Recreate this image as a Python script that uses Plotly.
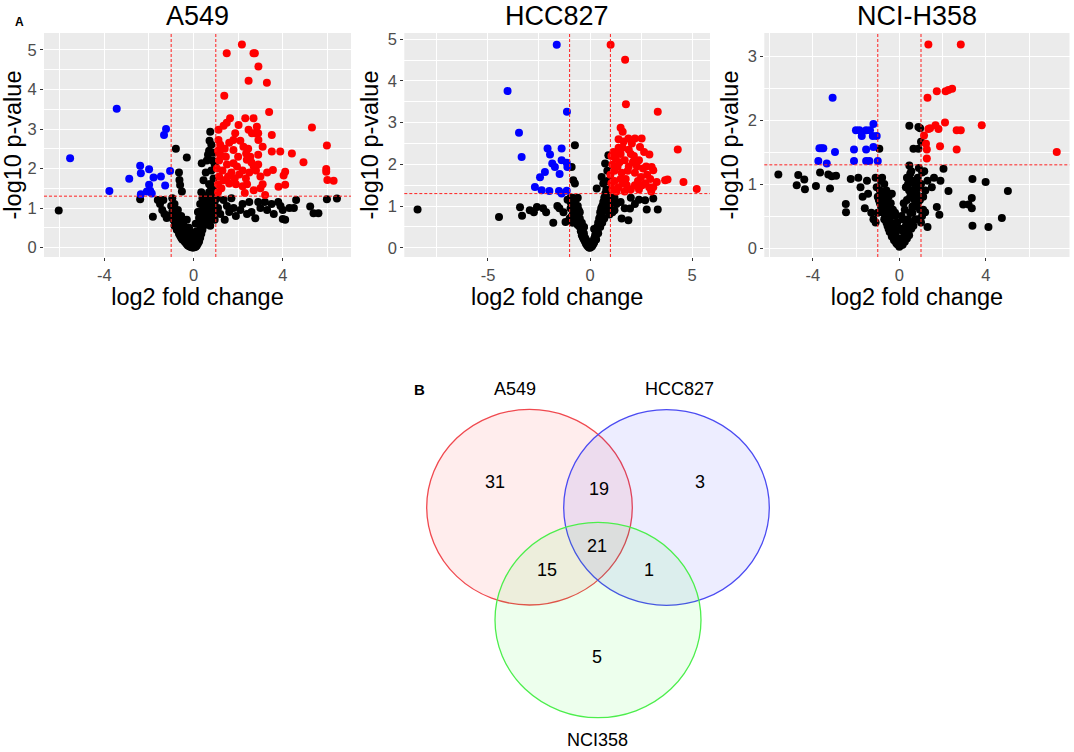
import plotly.graph_objects as go

# ---------------- data ----------------
panel_titles = ["A549", "HCC827", "NCI-H358"]

a549_xticks = [-4, 0, 4]
hcc_xticks = [-5, 0, 5]
nci_xticks = [-4, 0, 4]
a549_yticks = [0, 1, 2, 3, 4, 5]
hcc_yticks = [0, 1, 2, 3, 4, 5]
nci_yticks = [0, 1, 2, 3]

a549_red_x = [2.17,1.49,2.69,2.75,2.91,2.47,3.29,1.38,3.39,5.31,5.98,4.93,4.41,3.89,3.51,3.51,5.95,5.95,6.0,6.28,4.11,4.04,4.11,3.81,3.56,3.21,1.64,1.49,1.35,2.32,2.69,2.84,2.02,1.87,1.79,2.47,2.62,2.75,2.9,1.12,1.12,2.91,2.24,2.36,2.39,1.79,2.0,1.79,1.1,1.2,1.15,1.45,1.5,1.3,1.55,1.7,1.85,2.05,2.2,2.35,2.5,2.6,2.7,2.8,2.9,3.0,3.1,3.0,2.4,2.2,1.9,1.6,1.35,1.15,1.1,1.1,1.25,2.3,2.7,3.3,1.4,1.6,2.1,2.45,2.9,3.1,1.95,2.55,1.05,1.2]
a549_red_y = [5.14,4.92,4.92,4.92,4.58,4.22,4.17,3.84,3.43,3.04,2.58,2.16,2.38,2.43,2.43,2.85,1.99,1.92,1.71,1.69,1.92,1.82,1.59,1.54,1.96,1.33,3.27,3.16,3.08,3.27,3.27,3.06,3.10,2.89,2.72,2.98,2.89,2.89,2.89,2.98,2.72,2.72,2.55,2.38,2.22,2.47,2.3,2.13,2.45,2.35,2.2,2.3,2.1,1.95,1.8,1.9,1.75,1.85,1.95,1.75,1.9,2.15,2.05,1.95,2.1,1.8,1.6,1.5,1.6,1.55,1.6,1.62,1.7,1.8,1.6,1.4,1.5,1.38,1.45,1.9,2.5,2.65,2.7,2.5,2.35,2.55,2.05,2.3,2.0,2.6]
a549_blue_x = [-3.44,-5.53,-1.23,-1.32,-3.77,-2.88,-2.39,-2.36,-1.99,-1.79,-1.46,-1.27,-1.05,-1.99,-1.94,-2.09,-1.87,-2.36]
a549_blue_y = [3.51,2.26,3.0,2.85,1.43,1.74,2.07,1.88,1.98,1.77,1.8,1.57,1.94,1.59,1.44,1.42,1.37,1.35]
a549_black_x = [-6.04,-2.39,-1.82,-0.79,-0.3,-0.63,-0.6,-0.52,-0.65,-1.6,-1.5,-1.4,-1.3,-1.2,-1.1,-1.35,-1.0,-0.95,-0.9,-0.85,-0.8,-0.75,-0.7,-0.65,-0.6,-0.55,-0.5,-0.45,-0.4,-0.35,-0.3,-0.25,-0.2,-0.15,-0.1,-0.05,0.0,0.05,0.1,0.15,0.2,0.25,0.3,0.35,0.4,0.45,0.5,0.55,0.6,0.65,0.7,0.75,0.8,0.85,0.9,0.95,0.35,0.37,0.45,0.55,0.6,0.65,0.7,0.75,0.72,0.8,0.85,0.8,0.75,0.88,0.5,0.3,0.2,-0.2,-0.3,-0.1,0.1,1.35,1.5,1.6,1.8,1.9,2.1,2.2,2.4,2.6,2.77,2.5,2.9,3.0,3.2,3.3,3.5,3.8,3.9,4.0,4.11,4.0,4.3,4.5,4.6,5.23,5.38,5.6,5.98,6.43,1.1,1.2,1.05,1.4,1.7,3.6,
                -0.95,-0.85,-0.7,-0.55,-0.45,-0.35,-0.25,-0.15,-0.05,0.05,0.15,0.25,0.35,0.45,0.55,0.65,0.75,0.85,0.95,-0.5,-0.4,-0.3,-0.2,-0.1,0.0,0.1,0.2,0.3,0.4,0.5,0.6,0.7,0.8,0.9,-0.6,-0.7,-0.8,-0.9,0.45,0.55,0.65,0.75,0.85,0.95,0.4,0.3,0.25,-0.15,-0.05,0.05,0.15,-0.35,-0.25,0.1,0.2,0.3,0.4,0.6,0.7,0.8,0.9,0.95,0.9,0.85,0.7]
a549_black_y = [0.94,1.22,0.78,2.5,2.28,1.71,1.58,1.42,1.9,1.2,1.1,0.95,0.85,0.75,0.8,1.2,1.05,0.9,0.7,0.55,0.6,0.45,0.5,0.35,0.3,0.25,0.2,0.3,0.15,0.12,0.08,0.05,0.04,0.02,0.01,0.0,0.0,0.01,0.02,0.05,0.1,0.15,0.25,0.35,0.45,0.55,0.7,0.8,0.95,1.05,1.15,1.25,1.1,1.2,0.9,0.7,1.4,2.13,1.7,1.9,2.2,2.35,2.45,2.93,2.7,2.6,2.2,1.95,1.6,1.45,1.25,0.9,0.6,0.5,0.7,0.3,0.4,1.2,1.05,0.9,1.0,0.8,0.95,1.1,0.85,0.9,0.74,1.15,1.15,1.0,1.15,0.95,1.1,1.15,1.05,0.95,0.7,0.72,1.0,1.0,1.2,1.04,0.87,0.87,1.22,1.24,1.0,0.85,1.25,0.7,1.25,0.85,
                1.25,1.1,0.95,0.8,0.65,0.5,0.35,0.2,0.1,0.12,0.25,0.4,0.55,0.75,0.95,1.2,1.05,0.95,1.15,0.45,0.35,0.3,0.25,0.15,0.08,0.2,0.3,0.45,0.6,0.85,1.1,0.8,0.75,1.05,0.55,0.7,0.85,1.0,1.0,1.15,0.65,0.55,0.8,1.0,0.85,0.65,0.75,0.4,0.25,0.35,0.15,0.2,0.1,0.6,0.9,1.1,1.25,1.3,1.4,1.5,1.75,2.1,2.4,1.3,1.6]

hcc_red_x = [1.01,1.72,1.76,3.32,1.5,1.6,4.3,5.23,4.58,3.68,3.8,3.27,2.91,3.02,3.1,1.88,2.2,2.53,2.45,1.4,1.4,1.15,1.25,1.1,1.2,1.35,1.5,1.6,1.7,1.55,1.75,1.9,2.0,2.1,2.2,2.3,2.4,2.5,2.6,2.7,2.8,2.9,3.0,2.75,2.65,2.2,2.0,1.8,1.6,1.4,1.2,1.1,1.3,2.4,2.55,1.05,1.9,2.05,1.65,1.3,1.45,1.85,2.35,2.95,3.1,1.7,2.15,1.0,1.05,1.5]
hcc_red_y = [4.87,4.51,3.44,3.26,2.88,2.78,2.36,1.41,1.58,1.62,1.64,1.58,2.24,1.94,1.86,2.62,2.62,2.62,2.42,2.6,2.4,2.3,2.15,2.0,1.85,1.95,2.25,2.4,2.1,1.8,1.65,1.95,2.25,2.05,1.8,1.95,2.1,1.7,1.9,1.55,1.75,1.45,1.35,1.95,2.3,1.5,1.4,1.5,1.55,1.45,1.6,1.4,1.35,1.4,1.5,2.2,2.35,2.5,2.55,2.25,2.05,1.85,1.6,1.65,1.45,1.35,2.2,1.75,1.55,1.65]
hcc_blue_x = [-1.63,-4.04,-1.13,-3.48,-3.35,-2.08,-1.96,-1.39,-1.85,-1.72,-1.39,-1.14,-1.11,-2.21,-2.45,-2.7,-2.37,-1.99,-1.49,-1.52,-1.39,-1.14]
hcc_blue_y = [4.87,3.76,3.26,2.76,2.18,2.38,2.24,2.38,2.02,1.94,2.1,2.04,1.94,1.82,1.69,1.46,1.38,1.36,1.77,1.36,1.3,1.37]
hcc_black_x = [-8.45,-4.46,-3.43,-3.33,-2.95,-2.75,-2.6,-2.3,-2.15,-1.8,-1.6,-1.5,-1.3,-1.2,-0.74,-0.9,-0.82,-0.74,-0.95,-0.9,-0.85,-0.8,-0.75,-0.7,-0.65,-0.6,-0.55,-0.5,-0.45,-0.4,-0.35,-0.3,-0.25,-0.2,-0.15,-0.1,-0.05,0.0,0.05,0.1,0.15,0.2,0.25,0.3,0.35,0.4,0.45,0.5,0.55,0.6,0.65,0.7,0.75,0.8,0.85,0.9,0.95,0.9,0.74,0.57,0.65,0.33,0.85,0.95,0.8,1.2,1.3,1.5,1.55,1.7,1.88,1.96,2.0,2.2,2.4,2.7,2.78,3.1,3.32,1.1,-1.0,-0.3,0.2,-0.6,-1.1,
               -0.95,-0.9,-0.85,-0.8,-0.75,-0.7,-0.65,-0.6,-0.55,-0.5,-0.45,-0.4,-0.35,-0.3,-0.25,-0.2,-0.15,-0.1,0.0,0.1,0.15,0.2,0.25,0.3,0.35,0.4,0.45,0.5,0.55,0.6,0.65,0.7,0.75,0.8,0.85,0.9,0.95,0.7,0.6,0.5,0.4,0.3,-0.3,-0.4,-0.5,-0.6,-0.7,-0.85,-0.95,1.1,1.2,1.0,0.95,0.85,0.75]
hcc_black_y = [0.92,0.74,0.97,0.77,0.9,0.85,0.98,0.95,0.85,0.6,1.0,0.95,0.85,0.62,2.46,1.94,1.62,1.54,1.2,1.05,0.9,1.15,0.85,1.0,0.75,0.55,0.9,0.5,0.4,0.3,0.25,0.2,0.15,0.1,0.06,0.03,0.01,0.0,0.02,0.04,0.08,0.12,0.2,0.3,0.4,0.5,0.6,0.75,0.85,1.0,1.1,1.2,1.0,0.9,1.25,1.1,0.8,2.22,2.02,1.7,1.54,1.42,1.85,1.6,1.4,1.2,1.05,1.1,0.7,0.95,0.66,0.94,1.2,1.05,1.15,1.14,0.92,1.18,0.92,0.85,0.7,0.5,0.45,1.2,1.15,
               0.95,0.75,0.6,0.7,1.1,0.65,0.9,0.8,0.6,0.7,0.55,0.45,0.35,0.35,0.25,0.2,0.15,0.08,0.05,0.1,0.15,0.22,0.3,0.4,0.5,0.6,0.7,0.85,0.95,0.75,0.9,1.0,1.15,1.05,0.95,1.3,1.0,0.7,0.6,0.5,0.35,0.2,0.5,0.6,0.85,1.0,1.15,1.2,1.1,1.1,0.9,1.2,1.4,1.6,1.3]

nci_red_x = [1.34,2.84,1.30,1.73,2.14,2.27,2.44,2.11,1.67,1.81,1.34,1.42,1.14,2.65,2.84,3.81,1.88,2.65,1.27,1.27,1.23,7.28]
nci_red_y = [3.18,3.18,2.35,2.45,2.45,2.47,2.49,1.96,1.92,1.86,1.86,1.87,1.76,1.84,1.84,1.92,1.59,1.54,1.54,1.4,1.63,1.5]
nci_blue_x = [-3.09,-3.7,-3.6,-3.52,-2.98,-3.75,-3.36,-2.01,-1.85,-1.74,-1.54,-1.36,-1.2,-1.23,-1.05,-2.1,-1.54,-1.2,-2.1,-1.54,-1.39,-1.0]
nci_blue_y = [2.35,1.56,1.56,1.56,1.5,1.36,1.32,1.84,1.84,1.75,1.84,1.84,1.94,1.75,1.75,1.54,1.54,1.58,1.36,1.36,1.36,1.36]
nci_black_x = [-5.6,-4.68,-4.75,-4.4,-4.37,-3.86,-3.67,-3.29,-3.21,-3.13,-2.93,-2.48,-2.47,-2.25,-1.9,-1.8,-1.7,-1.6,-1.5,-1.45,-1.3,-1.2,-1.1,-1.05,-1.0,-0.93,-0.9,-0.85,-0.8,-0.75,-0.7,-0.65,-0.6,-0.55,-0.5,-0.45,-0.4,-0.35,-0.3,-0.25,-0.2,-0.15,-0.1,-0.05,0.0,0.05,0.1,0.15,0.2,0.25,0.3,0.35,0.4,0.45,0.5,0.55,0.6,0.65,0.7,0.75,0.8,0.85,0.9,0.95,1.0,0.46,0.88,0.96,0.65,0.88,1.0,0.46,0.5,1.05,1.1,1.2,1.3,1.19,1.3,1.5,1.6,1.73,1.85,1.9,2.04,2.27,3.38,3.99,5.02,3.35,3.2,2.95,3.35,3.38,4.12,4.74,-0.1,0.1,-0.2,
               -0.9,-0.8,-0.7,-0.6,-0.5,-0.4,-0.3,-0.2,-0.1,0.0,0.1,0.2,0.3,0.4,0.5,0.6,0.7,0.8,0.9,0.95,0.85,0.75,0.65,0.55,0.45,0.35,0.25,0.15,-0.05,-0.15,-0.25,-0.35,-0.45,-0.55,-0.65,-0.75,-0.85,-0.95,-1.0,-1.1,1.05,1.1,1.0,0.7,0.6,0.5,0.4,0.3,0.2,-0.2,-0.3,-0.4,-0.5,-0.6,-0.7,-0.8,0.55,0.35,0.9,1.15]
nci_black_y = [1.15,1.14,0.98,1.07,0.92,0.97,1.18,1.15,0.93,1.12,1.13,0.69,0.56,1.08,1.1,0.95,0.8,0.62,1.05,0.85,0.55,0.45,1.1,0.95,0.8,1.55,0.7,1.05,0.6,0.85,0.45,0.7,0.4,0.6,0.3,0.5,0.25,0.85,0.2,0.35,0.12,0.25,0.06,0.15,0.02,0.3,0.05,0.45,0.12,0.6,0.2,0.75,0.3,0.9,0.4,1.05,0.55,0.8,1.05,0.65,0.95,1.1,0.45,0.75,1.0,1.91,1.89,1.87,1.55,1.55,1.66,1.29,1.16,1.18,0.6,0.9,1.05,0.56,0.33,0.95,1.1,0.64,0.52,1.05,1.24,0.89,1.08,1.03,0.89,0.78,0.68,0.68,0.62,0.35,0.33,0.47,0.4,0.5,0.55,
               0.9,0.75,0.6,0.5,0.45,0.4,0.3,0.2,0.15,0.1,0.15,0.25,0.35,0.45,0.55,0.65,0.75,0.85,0.95,0.6,0.7,0.45,0.35,0.3,0.2,0.15,0.1,0.05,0.05,0.08,0.12,0.18,0.25,0.35,0.45,0.55,0.65,0.75,0.55,0.4,0.5,0.8,0.4,1.0,0.9,0.8,1.0,0.95,0.7,0.5,0.6,0.7,0.8,0.9,1.0,1.1,1.2,1.1,1.25,1.2]

venn_sets = ["A549", "HCC827", "NCI358"]
venn_counts = ["31", "19", "3", "21", "15", "1", "5"]   # A only, A&H, H only, all, A&N, H&N, N only

fc_cut = 1.0
p_cut = 1.3

# ---------------- figure ----------------
W, H = 1074, 752
fig = go.Figure()


def px(v):
    return v / W


def py(v):
    return 1 - v / H


panels = [
    (a549_red_x, a549_red_y, a549_blue_x, a549_blue_y, a549_black_x, a549_black_y),
    (hcc_red_x, hcc_red_y, hcc_blue_x, hcc_blue_y, hcc_black_x, hcc_black_y),
    (nci_red_x, nci_red_y, nci_blue_x, nci_blue_y, nci_black_x, nci_black_y),
]
xtick_sets = [a549_xticks, hcc_xticks, nci_xticks]
ytick_sets = [a549_yticks, hcc_yticks, nci_yticks]
boxes = [(44, 351, 33, 257), (404.3, 710, 33, 257), (764.3, 1069.5, 33, 257)]
xranges = [[-6.7, 7.06], [-9.1, 5.88], [-6.25, 7.87]]
yranges = [[-0.24, 5.43], [-0.22, 5.15], [-0.14, 3.36]]
xminor = [2, 2.5, 2]

FONT = "Liberation Sans, Arial, sans-serif"
mk = dict(size=8, line=dict(color="white", width=0))

for i, (rx, ry, bx, by, kx, ky) in enumerate(panels):
    n = "" if i == 0 else str(i + 1)
    xa, ya = "x" + n, "y" + n
    for xs, ys, col in [(kx, ky, "black"), (bx, by, "#0000FF"), (rx, ry, "#FF0000")]:
        fig.add_trace(go.Scatter(x=xs, y=ys, mode="markers", xaxis=xa, yaxis=ya,
                                 marker=dict(color=col, **mk), showlegend=False,
                                 hoverinfo="skip", cliponaxis=True))
    l, r, t, b = boxes[i]
    axis_common = dict(showgrid=True, gridcolor="white", gridwidth=1.1, zeroline=False,
                       ticks="outside", ticklen=3, tickcolor="#333333",
                       tickfont=dict(family=FONT, size=16.5, color="#4D4D4D"),
                       showline=False, fixedrange=True, automargin=False)
    xt = xtick_sets[i]
    yt = ytick_sets[i]
    fig.layout["xaxis" + n] = dict(domain=[px(l), px(r)], anchor=ya, range=xranges[i],
                                   tickmode="array", tickvals=xt, ticktext=[str(v) for v in xt],
                                   minor=dict(dtick=xminor[i], tick0=0, showgrid=True,
                                              gridcolor="white", gridwidth=0.5, ticks=""),
                                   title=dict(text="log2 fold change", standoff=2,
                                              font=dict(family=FONT, size=23.5, color="black")),
                                   **axis_common)
    fig.layout["yaxis" + n] = dict(domain=[py(b), py(t)], anchor=xa, range=yranges[i],
                                   tickmode="array", tickvals=yt, ticktext=[str(v) for v in yt],
                                   minor=dict(dtick=0.5, tick0=0, showgrid=True,
                                              gridcolor="white", gridwidth=0.5, ticks=""),
                                   title=dict(text="-log10 p-value", standoff=2,
                                              font=dict(family=FONT, size=23.5, color="black")),
                                   **axis_common)
    for v in (-fc_cut, fc_cut):
        fig.add_shape(type="line", xref=xa, yref=ya + " domain", x0=v, x1=v, y0=0, y1=1,
                      line=dict(color="#FF2020", width=1, dash="3px,2px"))
    fig.add_shape(type="line", xref=xa + " domain", yref=ya, x0=0, x1=1, y0=p_cut, y1=p_cut,
                  line=dict(color="#FF2020", width=1, dash="3px,2px"))
    fig.add_annotation(text=panel_titles[i], xref=xa + " domain", yref="paper",
                       x=0.5, y=1.0, showarrow=False, xanchor="center", yanchor="top",
                       borderpad=0, font=dict(family=FONT, size=27, color="black"))

# ---------------- Venn ----------------
circles = [  # (cx, cy, rx, ry, line, fill) in pixels
    (529.5, 507.2, 102.8, 97.8, "#F0494F", "rgba(255,0,0,0.07)"),
    (666.5, 507.5, 102.8, 97.8, "#4B4BF2", "rgba(0,0,255,0.07)"),
    (598.0, 620.0, 103.0, 97.7, "#4CEE4C", "rgba(0,255,0,0.07)"),
]
for cx, cy, rx_, ry_, lc, fc in circles:
    fig.add_shape(type="circle", xref="paper", yref="paper", x0=px(cx - rx_), x1=px(cx + rx_),
                  y0=py(cy + ry_), y1=py(cy - ry_), line=dict(color=lc, width=1.3), fillcolor=fc)

set_pos = [(515, 389), (679, 389), (597, 740)]
for name, (qx, qy) in zip(venn_sets, set_pos):
    fig.add_annotation(text=name, xref="paper", yref="paper", x=px(qx), y=py(qy), showarrow=False,
                       xanchor="center", yanchor="middle", borderpad=0,
                       font=dict(family=FONT, size=18, color="black"))
count_pos = [(494.5, 482), (598.5, 489), (700, 482), (597, 546), (547, 569.5), (648.5, 569.5), (597, 657)]
for c, (qx, qy) in zip(venn_counts, count_pos):
    fig.add_annotation(text=c, xref="paper", yref="paper", x=px(qx), y=py(qy), showarrow=False,
                       xanchor="center", yanchor="middle",
                       font=dict(family=FONT, size=18, color="black"))

fig.add_annotation(text="<b>A</b>", xref="paper", yref="paper", x=px(13), y=py(13),
                   showarrow=False, font=dict(family=FONT, size=12, color="black"))
fig.add_annotation(text="<b>B</b>", xref="paper", yref="paper", x=px(419.5), y=py(390),
                   showarrow=False, font=dict(family=FONT, size=15, color="black"))

fig.update_layout(width=W, height=H, margin=dict(l=0, r=0, t=0, b=0, autoexpand=False),
                  plot_bgcolor="#EBEBEB", paper_bgcolor="white", showlegend=False,
                  font=dict(family=FONT))
fig.write_html("out.html", config={"displayModeBar": False},
               post_script="document.body.style.margin='0';document.body.style.overflow='hidden';")
